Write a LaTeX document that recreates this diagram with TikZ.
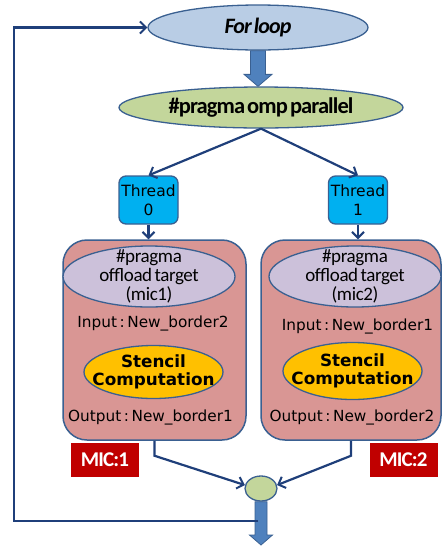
\documentclass[tikz,border=0pt]{standalone}
\usepackage{fontspec}
\setmainfont{DejaVu Sans}
\newfontfamily\calib[LetterSpace=-2,WordSpace=0.6]{Carlito}
\newfontfamily\calibtight[LetterSpace=-4,WordSpace=0.5]{Carlito}
\usetikzlibrary{shapes.geometric,arrows.meta,calc}

\definecolor{edge}{HTML}{3A6091}
\definecolor{navy}{HTML}{1F3F7A}
\definecolor{loopblue}{HTML}{B9CDE5}
\definecolor{ompgreen}{HTML}{C3D69B}
\definecolor{threadcyan}{HTML}{00B0F0}
\definecolor{micpink}{HTML}{D99694}
\definecolor{lilac}{HTML}{CCC1DA}
\definecolor{stencilgold}{HTML}{FFC000}
\definecolor{micred}{HTML}{C00000}
\definecolor{blockblue}{HTML}{4F81BD}

\tikzset{
  % the outline size comes from minimum width/height only
  oval/.style={ellipse, draw=edge, line width=1.3pt, inner sep=-30pt, align=center},
  threadbox/.style={rectangle, rounded corners=7pt, draw=edge, line width=1.3pt,
    fill=threadcyan, minimum width=59pt, minimum height=48pt, inner sep=0pt,
    align=center, font=\fontsize{15.5}{19}\selectfont},
  micbox/.style={rectangle, rounded corners=24pt, draw=edge, line width=1.5pt,
    fill=micpink, minimum height=200pt, inner sep=0pt},
  iolabel/.style={inner sep=0pt, font=\fontsize{15.3}{17}\selectfont},
  offtext/.style={font=\calib\fontsize{19}{19}\selectfont},
  stenciltext/.style={font=\bfseries\fontsize{16.8}{17.5}\selectfont},
  miclabel/.style={rectangle, fill=micred, text=white, minimum width=68pt,
    minimum height=34pt, inner sep=0pt, font=\calibtight\bfseries\fontsize{21}{22}\selectfont},
  link/.style={draw=navy, line width=2.2pt, -{Straight Barb[length=6pt,width=12pt,line width=2pt]}},
  blockarrow/.style={fill=blockblue, draw=edge, line width=0.8pt}
}

\begin{document}
\begin{tikzpicture}[x=1pt,y=-1pt]
\useasboundingbox (0,0) rectangle (442,547);

% top of the loop
\node[oval, fill=loopblue, minimum width=220pt, minimum height=45pt,
  font=\calibtight\bfseries\itshape\fontsize{22}{22}\selectfont] (loop) at (258,27.5) {For loop};
\node[oval, fill=ompgreen, minimum width=284pt, minimum height=41pt,
  font=\calibtight\bfseries\fontsize{22.5}{22}\selectfont] (omp) at (261,107.5) {\#pragma omp parallel};

% threads
\node[threadbox] (t0) at (148.5,200) {Thread\\0};
\node[threadbox] (t1) at (358,200) {Thread\\1};

% coprocessor boxes
\node[micbox, minimum width=183pt] (box1) at (154.5,340) {};
\node[micbox, minimum width=180pt] (box2) at (351,340) {};

\node[oval, fill=lilac, minimum width=172pt, minimum height=61pt, offtext] (off1) at (149,276.5) {\#pragma\\offload target\\(mic1)};
\node[oval, fill=lilac, minimum width=172pt, minimum height=61pt, offtext] (off2) at (355,276.5) {\#pragma\\offload target\\(mic2)};

\node[iolabel] (in1) at (153,323) {Input\,:\,New\_border2};
\node[iolabel] (in2) at (357.5,326) {Input\,:\,New\_border1};

\node[oval, fill=stencilgold, minimum width=139pt, minimum height=53pt, stenciltext] (st1) at (153.5,372) {Stencil\\Computation};
\node[oval, fill=stencilgold, minimum width=139pt, minimum height=57pt, stenciltext] (st2) at (352.5,371) {Stencil\\Computation};

\node[iolabel] (out1) at (150.5,417) {Output\,:\,New\_border1};
\node[iolabel] (out2) at (352,417) {Output\,:\,New\_border2};

\node[miclabel] (mic1) at (105,460) {MIC:1};
\node[miclabel] (mic2) at (403.5,460) {MIC:2};

% join point
\node[ellipse, draw=edge, line width=1.3pt, fill=ompgreen, minimum width=32pt,
  minimum height=25pt, inner sep=0pt] (merge) at (261,488.5) {};
\coordinate (exit) at (261,545);
\coordinate (fb) at (258,521);

% block arrows
\filldraw[blockarrow] let \p1=(loop.south), \p2=(omp.north) in
  (\x1-7.5pt,\y1) -- (\x1-7.5pt,\y2+12pt) -- (\x1-14pt,\y2+12pt) -- (\x1,\y2)
  -- (\x1+14pt,\y2+12pt) -- (\x1+7.5pt,\y2+12pt) -- (\x1+7.5pt,\y1) -- cycle;
\filldraw[blockarrow] let \p1=(merge.south), \p2=(exit) in
  (\x1-6pt,\y1) -- (\x1-6pt,\y2+10pt) -- (\x1-11.5pt,\y2+10pt) -- (\x1,\y2)
  -- (\x1+11.5pt,\y2+10pt) -- (\x1+6pt,\y2+10pt) -- (\x1+6pt,\y1) -- cycle;

% connectors
\draw[link] (omp.south) -- (t0.north);
\draw[link] (omp.south) -- (t1.north);
\draw[link] (t0.south) -- (t0.south |- box1.north);
\draw[link] (t1.south) -- (t1.south |- box2.north);
\draw[link] (box1.south) -- ++(0,15) -- (merge.168);
\draw[link] (box2.south) -- ++(0,15) -- (merge.12);
\draw[link] (fb) -- ++(-244,0) |- (loop.west);
\end{tikzpicture}
\end{document}
